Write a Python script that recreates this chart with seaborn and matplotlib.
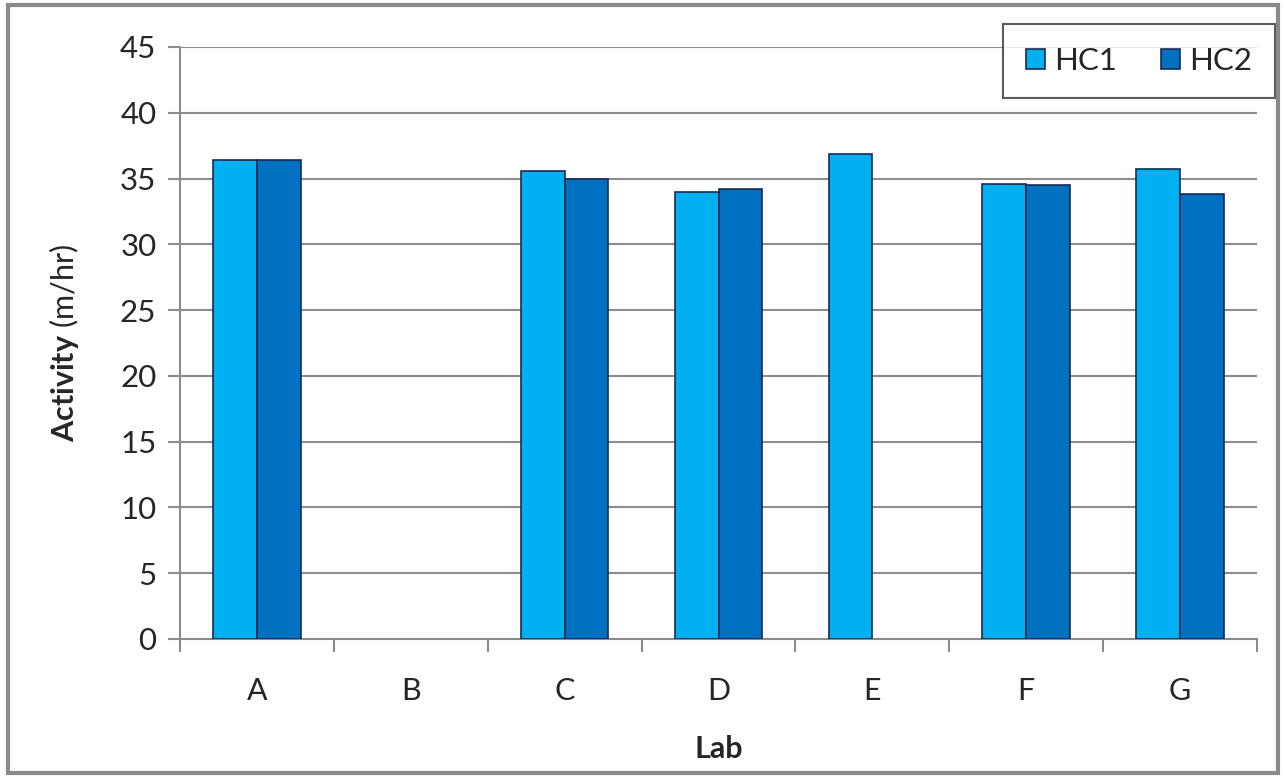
import numpy as np
import pandas as pd
import matplotlib
matplotlib.use("Agg")
import matplotlib.pyplot as plt
from matplotlib.patches import Rectangle
import seaborn as sns

# Activity per lab for the two hot-cell runs (B has no data, E has no HC2)
labs = ["A", "B", "C", "D", "E", "F", "G"]
hc1 = [36.4, np.nan, 35.6, 34.0, 36.9, 34.6, 35.7]
hc2 = [36.4, np.nan, 35.0, 34.2, np.nan, 34.5, 33.8]
series = ["HC1", "HC2"]
colors = ["#00B0F0", "#0070C0"]

df = pd.DataFrame({
    "Lab": labs * 2,
    "Series": [series[0]] * len(labs) + [series[1]] * len(labs),
    "Activity": hc1 + hc2,
})

sns.set_style("white")
plt.rcParams["font.family"] = ["Lato", "DejaVu Sans"]
plt.rcParams["mathtext.fontset"] = "custom"
plt.rcParams["mathtext.rm"] = "Lato"
plt.rcParams["mathtext.bf"] = "Lato:bold"

fig = plt.figure(figsize=(12.84, 7.77), dpi=100)
ax = fig.add_axes([180 / 1284, 1 - 639 / 777, (1257 - 180) / 1284, (639 - 47) / 777])

sns.barplot(data=df, x="Lab", y="Activity", hue="Series", order=labs,
            hue_order=series, palette=colors, saturation=1, width=0.57, gap=0,
            errorbar=None, edgecolor="#1a2a50", linewidth=1.2, ax=ax,
            zorder=3)

ax.set_ylim(0, 45)
ax.set_xlim(-0.5, len(labs) - 0.5)
ax.set_yticks(np.arange(0, 46, 5))
ax.yaxis.grid(True, color="#8c8c8c", linewidth=1.5, zorder=0)
ax.set_axisbelow(True)

for side in ["top", "right"]:
    ax.spines[side].set_visible(False)
for side in ["left", "bottom"]:
    ax.spines[side].set_color("#8c8c8c")
    ax.spines[side].set_linewidth(1.5)

ax.tick_params(axis="y", which="major", length=9, width=1.5, color="#8c8c8c",
               direction="out", labelsize=22.5, pad=8, left=True)
ax.tick_params(axis="x", which="major", length=0, labelsize=22, pad=27)
ax.set_xticks(np.arange(-0.5, len(labs), 1.0), minor=True)
ax.tick_params(axis="x", which="minor", length=9, width=1.5, color="#8c8c8c",
               direction="out", bottom=True)

ax.set_xlabel("Lab", fontsize=22, fontweight="bold", labelpad=22)
ax.set_ylabel(r"$\mathbf{Activity}$ (m/hr)", fontsize=22, labelpad=28)

ax.legend_.remove()
handles, lbls = ax.get_legend_handles_labels()
leg = fig.legend(handles, lbls, loc="center",
                 bbox_to_anchor=(998 / 1284, 1 - 99 / 777, 282 / 1284, 76 / 777),
                 ncol=2, fontsize=22.5, frameon=True, fancybox=False,
                 edgecolor="#333333", handlelength=0.6, handleheight=0.6,
                 handletextpad=0.3, columnspacing=1.4, borderpad=0.75,
                 borderaxespad=0)
leg.get_frame().set_linewidth(1.5)
leg.set_zorder(10)

fig.patches.append(Rectangle((8 / 1284, 4 / 777), 1270 / 1284, 768 / 777,
                             transform=fig.transFigure, fill=False,
                             edgecolor="#8a8a8a", linewidth=3, zorder=20))

fig.savefig("out.png", dpi=100)
